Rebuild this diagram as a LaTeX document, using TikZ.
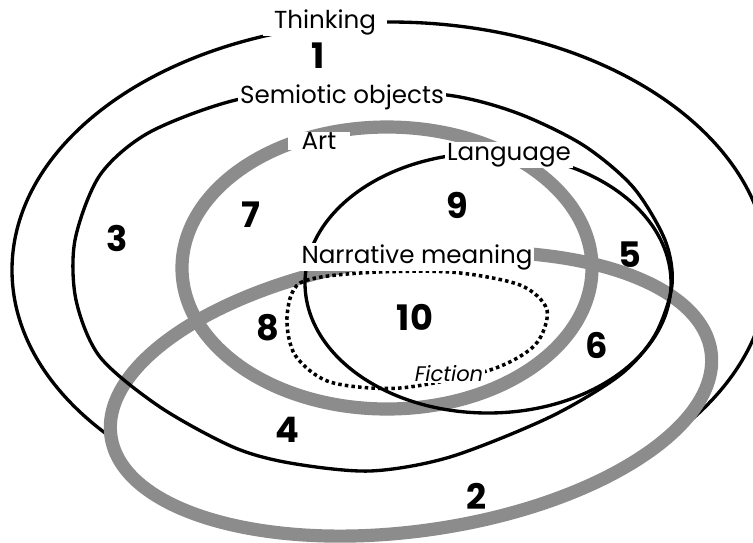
\documentclass[tikz,border=0pt]{standalone}
\usepackage{fontspec}
\setmainfont{Poppins}
\usepackage{tikz}

\begin{document}
\begin{tikzpicture}[
    x=0.02cm, y=-0.02cm,
    ring/.style={draw=black, line width=1.9pt},
    band/.style={draw=black!45, line width=7.5pt},
    fictionline/.style={draw=black, line width=2pt, dash pattern=on 2pt off 1.8pt},
    tag/.style={fill=white, inner xsep=1pt, inner ysep=0.5pt, font=\fontsize{14}{16}\selectfont},
    num/.style={font=\fontsize{20}{22}\selectfont\bfseries}
]
  \useasboundingbox (0,0) rectangle (753,542);
  \clip (0,0) rectangle (753,542);

  % Thinking, its foot hidden by the narrative ellipse
  \draw [ring] (390,270) ellipse [x radius=378, y radius=248];
  \fill [white, rotate around={8:(411,394)}] (411,394) ellipse [x radius=303, y radius=137];

  % Gray rings: art and narrative meaning
  \draw [band] (387,268) ellipse [x radius=205, y radius=141];
  \draw [band, rotate around={8:(411,394)}] (411,394) ellipse [x radius=303, y radius=137];

  % Semiotic objects and language
  \draw [ring] plot [smooth cycle] coordinates {(340,91) (447,95) (517,113) (583,145) (633,187) (665,240) (672,285) (655,335) (620,375) (550,417) (450,457) (370,471) (290,463) (233,447) (160,407) (100,357) (76,300) (75,240) (100,175) (150,132) (240,99)};
  \draw [ring] (488,283) ellipse [x radius=183, y radius=130];

  % Fiction
  \draw [fictionline] plot [smooth cycle] coordinates {(287,317) (300,283) (360,273) (450,272) (520,285) (547,310) (535,345) (490,370) (400,388) (330,382) (295,355)};

  % Labels
  \node (thinking) [tag, inner xsep=6pt] at (325,22) {Thinking};
  \node (semiotic) [tag] at (342,97) {Semiotic objects};
  \node (art) [tag, inner xsep=8pt] at (319,141) {Art};
  \node (language) [tag] at (509,155) {Language};
  \node (narrative) [tag] at (417,257) {Narrative meaning};
  \node (fiction) [tag, font=\fontsize{12}{14}\selectfont\itshape] at (449,374) {Fiction};

  % Region numbers
  \node (n1) [num] at (318,56) {1};
  \node (n2) [num] at (477,496) {2};
  \node (n3) [num] at (117,238) {3};
  \node (n4) [num] at (287,430) {4};
  \node (n5) [num] at (630,255) {5};
  \node (n6) [num] at (597,345) {6};
  \node (n7) [num] at (251,215) {7};
  \node (n8) [num] at (268,328) {8};
  \node (n9) [num] at (457,205) {9};
  \node (n10) [num] at (415,317) {10};
\end{tikzpicture}
\end{document}
